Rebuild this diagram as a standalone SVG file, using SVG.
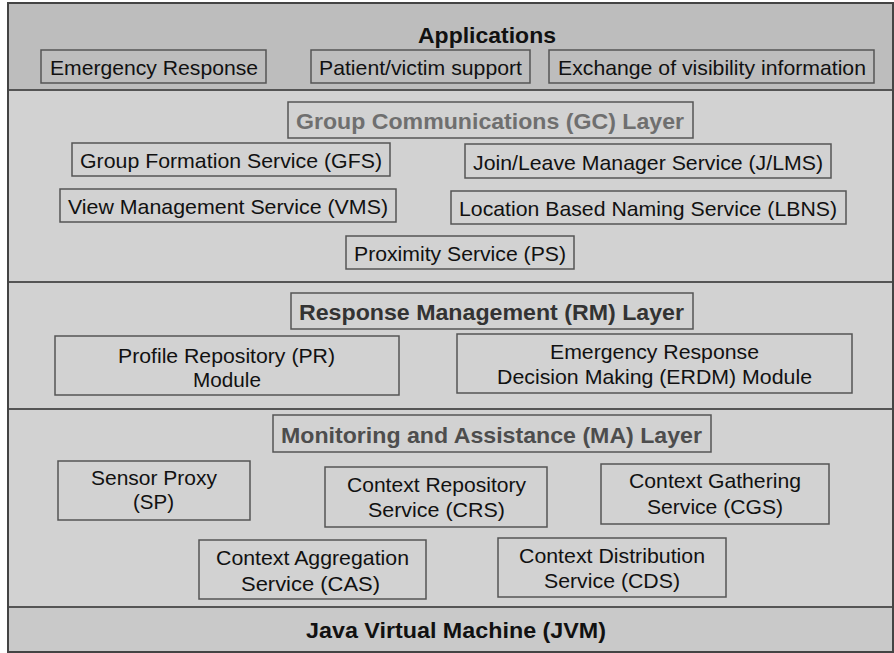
<svg xmlns="http://www.w3.org/2000/svg" width="894" height="653" viewBox="0 0 894 653">
<style>
text{font-family:"Liberation Sans",Arial,sans-serif;font-size:21px;fill:#111;text-anchor:middle}
.t{font-weight:bold;font-size:22px}
.band{stroke:none}
.box{fill:none;stroke:#555;stroke-width:1.5}
.sep{stroke:#555;stroke-width:2}
</style>
<rect width="894" height="653" fill="#ffffff"/>
<g id="bands">
<rect class="band" x="8" y="3" width="885" height="87" fill="#bdbdbd"/>
<rect class="band" x="8" y="90" width="885" height="517" fill="#d2d2d2"/>
<rect class="band" x="8" y="607" width="885" height="45" fill="#c9c9c9"/>
<line class="sep" x1="8" y1="90" x2="893" y2="90"/>
<line class="sep" x1="8" y1="282" x2="893" y2="282"/>
<line class="sep" x1="8" y1="409" x2="893" y2="409"/>
<line class="sep" x1="8" y1="607" x2="893" y2="607"/>
<rect x="8" y="3" width="885" height="649" fill="none" stroke="#444" stroke-width="2"/>
</g>
<g id="applications">
<text class="t" x="487" y="43" textLength="138" lengthAdjust="spacingAndGlyphs">Applications</text>
</g>
<g id="app-er"><rect class="box" x="41" y="50" width="225" height="33"/><text x="154" y="75" textLength="208" lengthAdjust="spacingAndGlyphs">Emergency Response</text></g>
<g id="app-pvs"><rect class="box" x="311" y="50" width="219" height="33"/><text x="420.5" y="75" textLength="203" lengthAdjust="spacingAndGlyphs">Patient/victim support</text></g>
<g id="app-evi"><rect class="box" x="549" y="50" width="325" height="33"/><text x="712" y="75" textLength="308" lengthAdjust="spacingAndGlyphs">Exchange of visibility information</text></g>

<g id="gc-layer"><rect class="box" x="288" y="102" width="405" height="36"/><text class="t" x="490" y="129" style="fill:#6f6f6f" textLength="388" lengthAdjust="spacingAndGlyphs">Group Communications (GC) Layer</text></g>
<g id="gfs"><rect class="box" x="72" y="143" width="318" height="33"/><text x="231" y="168" textLength="302" lengthAdjust="spacingAndGlyphs">Group Formation Service (GFS)</text></g>
<g id="jlms"><rect class="box" x="465" y="144" width="366" height="34"/><text x="648" y="170" textLength="350" lengthAdjust="spacingAndGlyphs">Join/Leave Manager Service (J/LMS)</text></g>
<g id="vms"><rect class="box" x="60" y="189" width="336" height="33"/><text x="228" y="214" textLength="320" lengthAdjust="spacingAndGlyphs">View Management Service (VMS)</text></g>
<g id="lbns"><rect class="box" x="451" y="191" width="395" height="33"/><text x="648" y="216" textLength="378" lengthAdjust="spacingAndGlyphs">Location Based Naming Service (LBNS)</text></g>
<g id="ps"><rect class="box" x="346" y="236" width="228" height="33"/><text x="460" y="261" textLength="212" lengthAdjust="spacingAndGlyphs">Proximity Service (PS)</text></g>

<g id="rm-layer"><rect class="box" x="291" y="293" width="402" height="36"/><text class="t" x="491.5" y="320" style="fill:#333" textLength="385" lengthAdjust="spacingAndGlyphs">Response Management (RM) Layer</text></g>
<g id="pr"><rect class="box" x="55" y="336" width="344" height="59"/><text x="226.5" y="363" textLength="217" lengthAdjust="spacingAndGlyphs">Profile Repository (PR)</text><text x="227" y="387" textLength="68" lengthAdjust="spacingAndGlyphs">Module</text></g>
<g id="erdm"><rect class="box" x="457" y="334" width="395" height="59"/><text x="654.5" y="359" textLength="209" lengthAdjust="spacingAndGlyphs">Emergency Response</text><text x="654.5" y="384" textLength="315" lengthAdjust="spacingAndGlyphs">Decision Making (ERDM) Module</text></g>

<g id="ma-layer"><rect class="box" x="273" y="415" width="438" height="37"/><text class="t" x="491.5" y="443" style="fill:#4d4d4d" textLength="421" lengthAdjust="spacingAndGlyphs">Monitoring and Assistance (MA) Layer</text></g>
<g id="sp"><rect class="box" x="58" y="461" width="192" height="59"/><text x="154" y="485" textLength="126" lengthAdjust="spacingAndGlyphs">Sensor Proxy</text><text x="153.5" y="509" textLength="41" lengthAdjust="spacingAndGlyphs">(SP)</text></g>
<g id="crs"><rect class="box" x="325" y="467" width="222" height="60"/><text x="436.5" y="492" textLength="179" lengthAdjust="spacingAndGlyphs">Context Repository</text><text x="436.5" y="517" textLength="137" lengthAdjust="spacingAndGlyphs">Service (CRS)</text></g>
<g id="cgs"><rect class="box" x="601" y="464" width="228" height="60"/><text x="715" y="488" textLength="172" lengthAdjust="spacingAndGlyphs">Context Gathering</text><text x="715" y="514" textLength="136" lengthAdjust="spacingAndGlyphs">Service (CGS)</text></g>
<g id="cas"><rect class="box" x="199" y="540" width="227" height="59"/><text x="312.5" y="565" textLength="193" lengthAdjust="spacingAndGlyphs">Context Aggregation</text><text x="310.5" y="591" textLength="139" lengthAdjust="spacingAndGlyphs">Service (CAS)</text></g>
<g id="cds"><rect class="box" x="498" y="538" width="228" height="59"/><text x="612" y="563" textLength="186" lengthAdjust="spacingAndGlyphs">Context Distribution</text><text x="612" y="588" textLength="136" lengthAdjust="spacingAndGlyphs">Service (CDS)</text></g>

<g id="jvm"><text class="t" x="456" y="638" textLength="300" lengthAdjust="spacingAndGlyphs">Java Virtual Machine (JVM)</text></g>
<g id="connectors"></g>
</svg>
